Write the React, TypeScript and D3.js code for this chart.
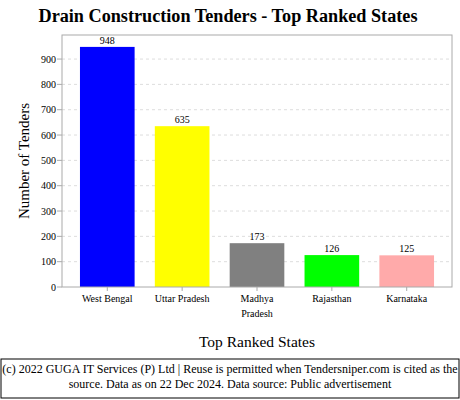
import React from "react";
import * as d3 from "d3";

const states = ["West Bengal", "Uttar Pradesh", "Madhya Pradesh", "Rajasthan", "Karnataka"];
const stateLines = [["West Bengal"], ["Uttar Pradesh"], ["Madhya", "Pradesh"], ["Rajasthan"], ["Karnataka"]];
const tenders = [948, 635, 173, 126, 125];
const barColors = ["#0000ff", "#ffff00", "#808080", "#00ff00", "#ffaaaa"];
const yTicks = [0, 100, 200, 300, 400, 500, 600, 700, 800, 900];

const W = 460, H = 400;
const L = 62, R = 452, T = 35, B = 287;
const FONT = "'Liberation Serif', 'DejaVu Serif', serif";

export default function App() {
  const x = d3.scaleBand<string>().domain(states).range([L, R]).paddingInner(0.27).paddingOuter(0.24);
  const y = d3.scaleLinear().domain([0, 995]).range([B, T]);
  return (
    <svg width={W} height={H} style={{ position: "absolute", left: 0, top: 0, background: "#fff" }} fontFamily={FONT}>
      <rect x={0} y={0} width={W} height={H} fill="#fff" />
      <text x={228} y={22} textAnchor="middle" fontSize={18.2} fontWeight="bold">Drain Construction Tenders - Top Ranked States</text>
      {yTicks.map((t) => (
        <g key={t}>
          {t > 0 && <line x1={L} x2={R} y1={y(t)} y2={y(t)} stroke="#dddddd" strokeDasharray="3,3" />}
          <line x1={L - 5} x2={L} y1={y(t)} y2={y(t)} stroke="#aaaaaa" />
          <text x={L - 6} y={y(t) + 3.5} textAnchor="end" fontSize={10}>{t}</text>
        </g>
      ))}
      {states.map((s, i) => (
        <g key={s}>
          <rect x={x(s)} y={y(tenders[i])} width={x.bandwidth()} height={B - y(tenders[i])} fill={barColors[i]} />
          <text x={x(s)! + x.bandwidth() / 2} y={y(tenders[i]) - 3} textAnchor="middle" fontSize={10}>{tenders[i]}</text>
          <line x1={x(s)! + x.bandwidth() / 2} x2={x(s)! + x.bandwidth() / 2} y1={B} y2={B + 4} stroke="#aaaaaa" />
          {stateLines[i].map((ln, j) => (
            <text key={j} x={x(s)! + x.bandwidth() / 2} y={302 + j * 15} textAnchor="middle" fontSize={10}>{ln}</text>
          ))}
        </g>
      ))}
      <rect x={L} y={T} width={R - L} height={B - T} fill="none" stroke="#aaaaaa" />
      <text transform={`translate(29,${(T + B) / 2}) rotate(-90)`} textAnchor="middle" fontSize={15}>Number of Tenders</text>
      <text x={257} y={347} textAnchor="middle" fontSize={15.5}>Top Ranked States</text>
      <rect x={1} y={359} width={458} height={39} fill="none" stroke="#000" />
      <text x={230} y={373} textAnchor="middle" fontSize={12}>(c) 2022 GUGA IT Services (P) Ltd | Reuse is permitted when Tendersniper.com is cited as the</text>
      <text x={230} y={388} textAnchor="middle" fontSize={12}>source. Data as on 22 Dec 2024. Data source: Public advertisement</text>
    </svg>
  );
}
